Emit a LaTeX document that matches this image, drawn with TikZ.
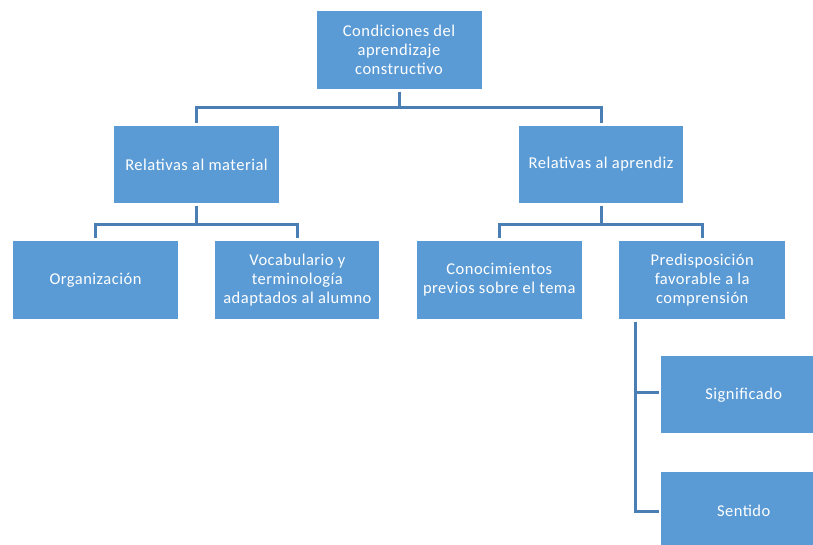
\documentclass[tikz,border=0pt]{standalone}
\usepackage{fontspec}
\setmainfont{Carlito}[LetterSpace=3]
\usepackage{xcolor}
\usepackage{tikz}
\usetikzlibrary{positioning,calc}

\definecolor{boxblue}{HTML}{5B9BD5}
\definecolor{lineblue}{HTML}{4A7EB5}

\tikzset{
  box/.style={fill=boxblue,text=white,align=center,inner sep=1pt,
    minimum width=165pt,minimum height=77pt,
    font=\fontsize{16.5}{19}\selectfont},
  link/.style={draw=lineblue,line width=3pt,shorten <=2.5pt,shorten >=2.5pt}
}

\begin{document}
\begin{tikzpicture}[x=1pt,y=-1pt, node distance=37pt]
\useasboundingbox (0,0) rectangle (813,545);
\node[box,minimum height=78pt] (root) at (399,50)
  {Condiciones del\\aprendizaje\\constructivo};
\node[box] (mat) at (196.5,164.5) {Relativas al material};
\node[box,minimum width=164pt] (apr) at (601,164.5) {Relativas al aprendiz};
\node[box,minimum height=78pt] (org) at (95.5,280) {Organización};
\node[box,minimum width=164pt,minimum height=78pt,right=of org] (voc)
  {Vocabulario y\\terminología\\adaptados al alumno};
\node[box,minimum height=78pt,right=of voc] (con)
  {Conocimientos\\previos sobre el tema};
\node[box,minimum width=166pt,minimum height=78pt,right=of con] (pre)
  {Predisposición\\favorable a la\\comprensión};
\node[box,anchor=north west] (sig) at (661,356) {Significado};
\node[box,anchor=north west,minimum height=78pt] (sen) at (661,472) {Sentido};
% ramas
\draw[link] (root.south) -- ++(0,18) -| (mat.north);
\draw[link] (root.south) -- ++(0,18) -| (apr.north);
\draw[link] (mat.south) -- ++(0,21) -| (org.north);
\draw[link] (mat.south) -- ++(0,21) -| (voc.north);
\draw[link] (apr.south) -- ++(0,21) -| (con.north);
\draw[link] (apr.south) -- ++(0,21) -| (pre.north);
\draw[link] ([xshift=16pt]pre.south west) |- ([yshift=2pt]sig.west);
\draw[link] ([xshift=16pt]pre.south west) |- (sen.west);
\end{tikzpicture}
\end{document}
